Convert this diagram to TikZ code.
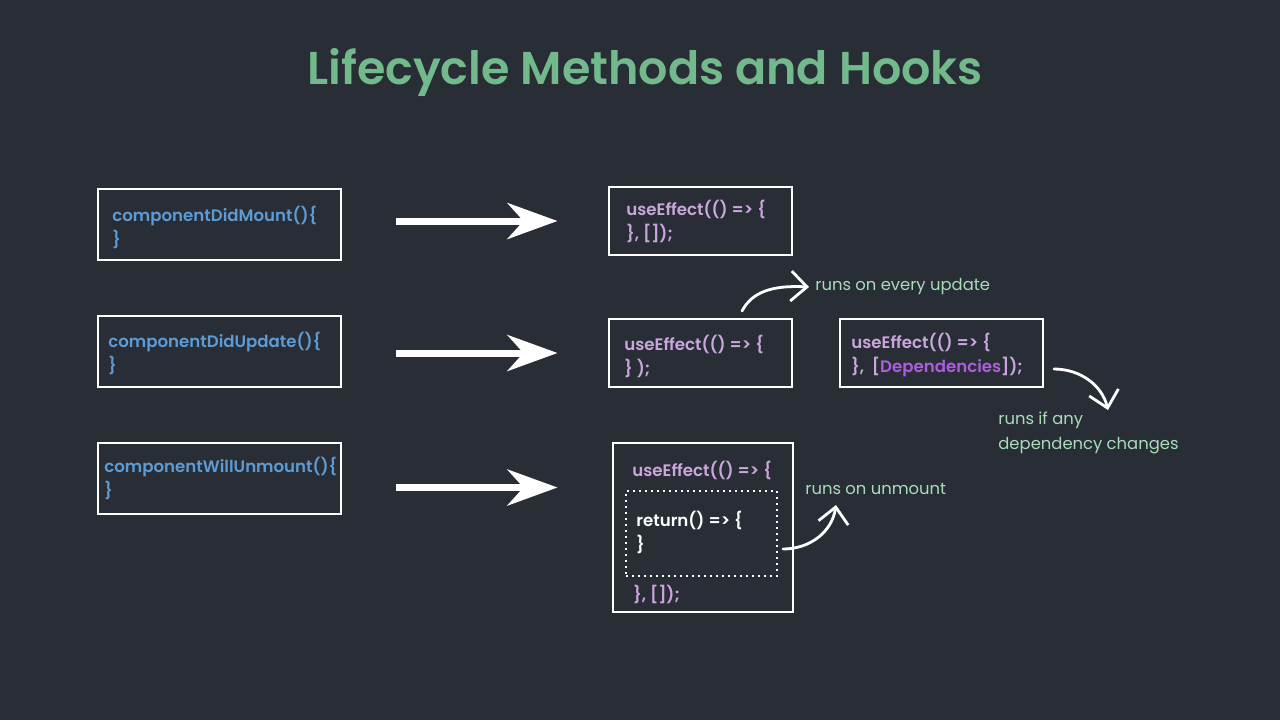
\documentclass[tikz,border=0pt]{standalone}
\usepackage{fontspec}
\setmainfont{Poppins}
\newfontfamily\semifont{Poppins SemiBold}
\usetikzlibrary{arrows.meta}

\definecolor{bgdark}{HTML}{292E36}
\definecolor{titlegreen}{HTML}{72B98C}
\definecolor{oldblue}{HTML}{5C9BD4}
\definecolor{hookpurple}{HTML}{CBA6DE}
\definecolor{deppurple}{HTML}{B05BE0}
\definecolor{notegreen}{HTML}{A8DDB8}

\begin{document}
\begin{tikzpicture}[x=0.5pt, y=-0.5pt,
  box/.style={draw=white, line width=0.55pt, inner sep=0pt},
  oldbox/.style={box, minimum width=121.5pt, minimum height=35.5pt},
  newbox/.style={box, minimum width=91.5pt, minimum height=34pt},
  code/.style={anchor=west, inner sep=0pt, align=left,
               font=\semifont\fontsize{8.3}{12}\selectfont},
  oldcode/.style={code, text=oldblue},
  newcode/.style={code, text=hookpurple},
  note/.style={anchor=west, inner sep=0pt, align=left, text=notegreen,
               font=\fontsize{8.2}{12.5}\selectfont},
  bigarrow/.style={-{Stealth[length=25pt, width=18pt, inset=8pt]},
                   line width=3.5pt, white},
  curvy/.style={-{Straight Barb[length=8pt, width=15pt]},
                line width=1.4pt, white, line cap=round}
]
  \fill[bgdark] (0,0) rectangle (1280,720);
  \useasboundingbox (0,0) rectangle (1280,720);

  \node[text=titlegreen, font=\semifont\fontsize{23}{28}\selectfont]
    (title) at (645,72) {Lifecycle Methods and Hooks};

  % class component side
  \node[oldbox] (old1) at (219.5,224.5) {};
  \node[oldbox] (old2) at (219.5,351.5) {};
  \node[oldbox] (old3) at (219.5,478.5) {};
  \node[oldcode] (old1t) at (112,227) {componentDidMount()\{\\\}};
  \node[oldcode] (old2t) at (108,353) {componentDidUpdate()\{\\\}};
  \node[oldcode] (old3t) at (104,478) {componentWillUnmount()\{\\\}};

  % hooks side
  \node[newbox] (new1) at (700.5,221) {};
  \node[newbox] (new2) at (700.5,353) {};
  \node[newbox, minimum width=101.5pt] (new3) at (941.5,353) {};
  \node[newbox, minimum width=90pt, minimum height=84.5pt] (new4) at (703,527.5) {};
  \node[draw=white, dotted, line width=1pt, minimum width=75.5pt,
        minimum height=42.5pt] (ret) at (701.5,533.5) {};

  \node[newcode] (new1t) at (626,221) {useEffect(() => \{\\\}, []);};
  \node[newcode] (new2t) at (624,356) {useEffect(() => \{\\\} );};
  \node[newcode] (new3t) at (851,355)
    {useEffect(() => \{\\\},~~[\textcolor{deppurple}{Dependencies}]);};
  \node[newcode] (new4t) at (632,470) {useEffect(() => \{};
  \node[code, text=white] (rett) at (636,532) {return() => \{\\\}};
  \node[newcode] (new4e) at (633,594) {\}, []);};

  % notes
  \node[note] (upd) at (815,287) {runs on every update};
  \node[note] (dep) at (998,433) {runs if any\\dependency changes};
  \node[note] (unm) at (805,489) {runs on unmount};

  \draw[bigarrow] ([xshift=27pt]old1.east |- new1.west) -- ([xshift=-25.5pt]new1.west);
  \draw[bigarrow] ([xshift=27pt]old2.east |- new2.west) -- ([xshift=-25.5pt]new2.west);
  \draw[bigarrow] ([xshift=27pt, yshift=-4.5pt]old3.east)
    -- ([xshift=-27.5pt, yshift=-4.5pt]old3.east -| new4.west);

  \coordinate (upds) at (742,311);
  \coordinate (deps) at (1054,369);
  \coordinate (depe) at (1108,410);
  \coordinate (unms) at (783,549);
  \coordinate (unme) at (836,505);

  \draw[curvy] (upds) .. controls (752,292) and (772,285) .. ([xshift=-3pt]upd.west);
  \draw[curvy] (deps) .. controls (1080,369) and (1102,385) .. (depe);
  \draw[curvy] (unms) .. controls (810,549) and (832,532) .. (unme);

\end{tikzpicture}
\end{document}
